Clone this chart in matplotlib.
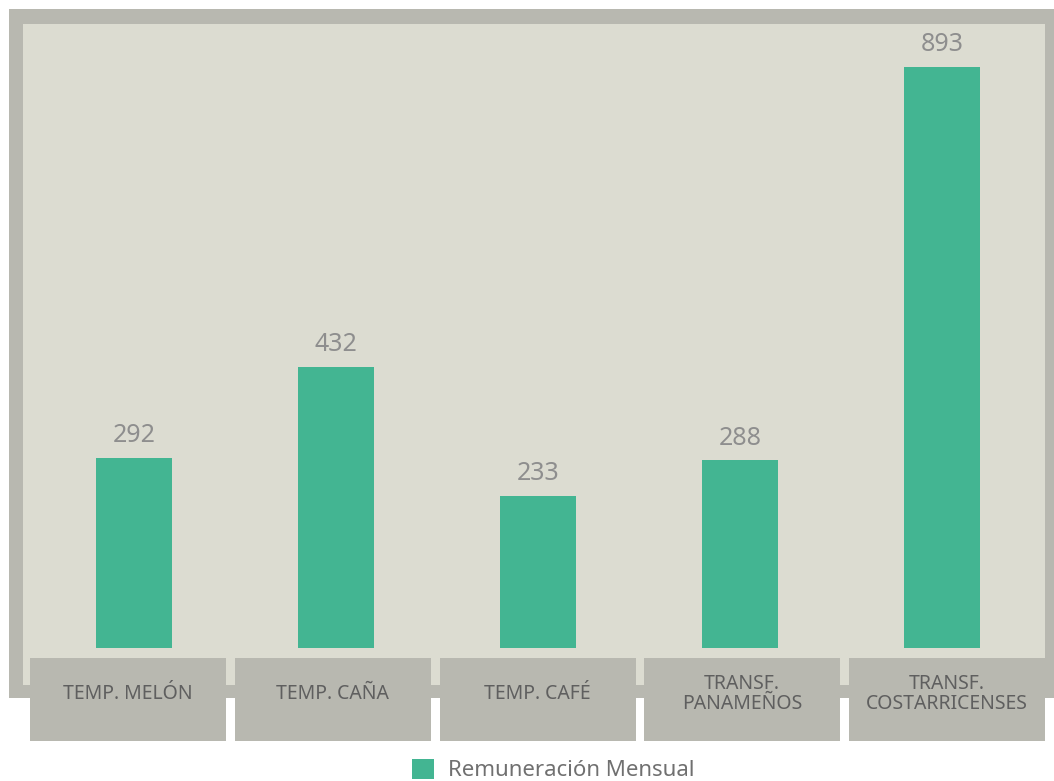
import matplotlib.pyplot as plt
from matplotlib.patches import Rectangle

categories = ["TEMP. MELÓN", "TEMP. CAÑA", "TEMP. CAFÉ", "TRANSF.\nPANAMEÑOS", "TRANSF.\nCOSTARRICENSES"]
values = [292, 432, 233, 288, 893]
series_name = "Remuneración Mensual"

W, H = 1054, 781
FRAME = "#b8b8b0"
INNER = "#dcdcd1"
GREEN = "#43b592"

plt.rcParams["font.family"] = ["Noto Sans", "DejaVu Sans"]

fig = plt.figure(figsize=(W / 100, H / 100), dpi=100)


def px_rect(x0, y0, x1, y1, color, z):
    # pixel box (top-left origin) -> figure-fraction rectangle
    fig.patches.append(Rectangle((x0 / W, 1 - y1 / H), (x1 - x0) / W, (y1 - y0) / H,
                                 transform=fig.transFigure, facecolor=color,
                                 edgecolor="none", zorder=z))


# outer frame and inner panel
px_rect(9, 9, 1054, 697.5, FRAME, 0)
px_rect(23, 24, 1045, 685, INNER, 1)

# plotting axes sits inside the panel, bottom at bar baseline
ax_left, ax_right, ax_top, ax_bottom = 23, 1045, 24, 647.7
ax = fig.add_axes([ax_left / W, 1 - ax_bottom / H, (ax_right - ax_left) / W, (ax_bottom - ax_top) / H])
ax.set_facecolor("none")
ax.set_zorder(2)

x = list(range(len(categories)))
bars = ax.bar(x, values, width=0.376, color=GREEN, label=series_name, zorder=3)
ax.set_xlim(-0.5495, 4.51)
ax.set_ylim(0, 959)

for b, v in zip(bars, values):
    ax.annotate(f"{v}", (b.get_x() + b.get_width() / 2, v), xytext=(0, 7),
                textcoords="offset points", ha="center", va="bottom",
                fontsize=18, color="#8e8e8e")

for s in ax.spines.values():
    s.set_visible(False)
ax.set_xticks([])
ax.set_yticks([])

# category label boxes under the panel
box_w, box_gap, box_x0 = 196, 8.75, 30
for i, cat in enumerate(categories):
    x0 = box_x0 + i * (box_w + box_gap)
    px_rect(x0, 657.7, x0 + box_w, 740.7, FRAME, 3)
    fig.text((x0 + box_w / 2) / W, 1 - 694 / H, cat, ha="center", va="center",
             fontsize=14, color="#5f5f5f", linespacing=1.05, zorder=4)

fig.legend(handles=[bars], labels=[series_name], loc="center",
           bbox_to_anchor=(553 / W, 1 - 770 / H), frameon=False,
           fontsize=16, labelcolor="#707070", handlelength=1.0, handleheight=1.0,
           handletextpad=0.6, borderpad=0)

fig.savefig("out.png", dpi=100, facecolor="white")
